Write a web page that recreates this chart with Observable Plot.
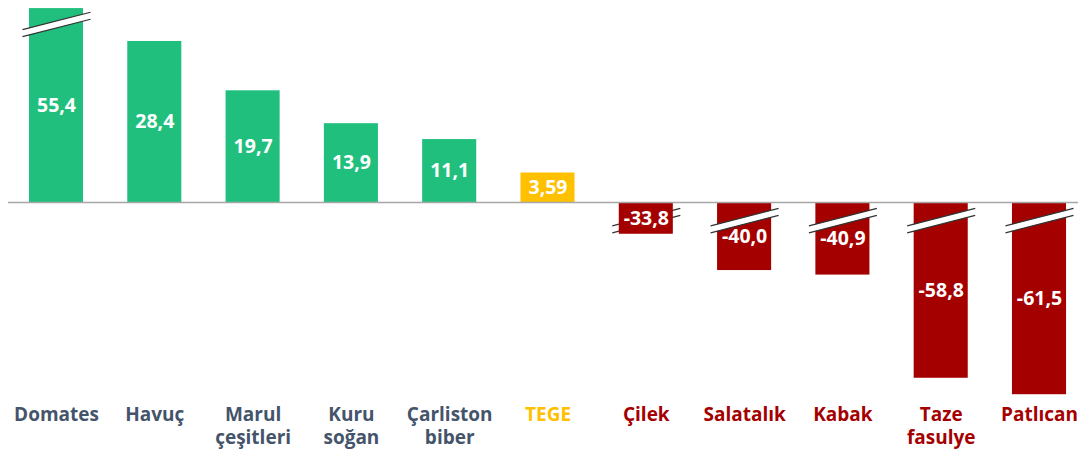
<!DOCTYPE html>
<html>
<head>
<meta charset="utf-8">
<script src="https://cdn.jsdelivr.net/npm/d3@7"></script>
<script src="https://cdn.jsdelivr.net/npm/@observablehq/plot@0.6"></script>
<style>
  html, body { margin: 0; padding: 0; background: #fff; }
  #chart svg { display: block; }
</style>
</head>
<body>
<div id="chart"></div>
<script>
// Categories (tick labels)
const categories = ["Domates", "Havuç", "Marul\nçeşitleri", "Kuru\nsoğan", "Çarliston\nbiber", "TEGE", "Çilek", "Salatalık", "Kabak", "Taze\nfasulye", "Patlıcan"];
// Values printed on the bars (% change)
const values = [55.4, 28.4, 19.7, 13.9, 11.1, 3.59, -33.8, -40.0, -40.9, -58.8, -61.5];
// Extent of each bar as drawn on the broken axis
const shown = [34.2, 28.4, 19.7, 13.9, 11.1, 5.2, -5.6, -12.0, -12.8, -31.0, -33.9];
// Where the axis-break mark crosses each bar (null = no break)
const breakAt = [31.4, null, null, null, null, null, -3.2, -3.2, -3.2, -3.2, -3.2];
// Breaks that sit behind the bar
const breakBehind = ["Çilek"];
// Group of each bar: up, total, down
const groups = ["up", "up", "up", "up", "up", "total", "down", "down", "down", "down", "down"];

const barColor = {up: "#21bf7e", total: "#ffc000", down: "#a50000"};
const textColor = {up: "#44546a", total: "#ffc000", down: "#a50000"};

const rows = categories.map((c, i) => ({
  i, c, v: values[i], s: shown[i], b: breakAt[i], g: groups[i]
}));
const breaks = rows.filter(d => d.b != null);
const back = breaks.filter(d => breakBehind.includes(d.c));
const front = breaks.filter(d => !breakBehind.includes(d.c));

const fmt = v => (Number.isInteger(Math.round(v * 100) / 10) ? v.toFixed(1) : v.toFixed(2)).replace(".", ",");

const pxPerUnit = 5.67;
const zeroY = 202;
const half = 0.275;      // half bar width in category units
const bx = 0.346, by = 1.54; // break mark half extents

function breakMarks(data) {
  const opts = {
    x1: d => d.i - bx, x2: d => d.i + bx,
    y1: d => d.b - by, y2: d => d.b + by
  };
  return [
    Plot.link(data, {...opts, stroke: "#fff", strokeWidth: 6.5}),
    Plot.link(data, {...opts, stroke: "#333", strokeWidth: 1.2, dy: -3.5}),
    Plot.link(data, {...opts, stroke: "#333", strokeWidth: 1.2, dy: 3.5})
  ];
}

const chart = Plot.plot({
  width: 1078,
  height: 450,
  marginLeft: 8,
  marginRight: 0,
  marginTop: 0,
  marginBottom: 47,
  x: {domain: [0, categories.length - 1], range: [56, 1039], axis: null},
  y: {domain: [-36, 36], range: [zeroY + 36 * pxPerUnit, zeroY - 36 * pxPerUnit], axis: null},
  color: {type: "identity"},
  style: {fontFamily: "'Open Sans', sans-serif", background: "#fff"},
  marks: [
    ...breakMarks(back),
    Plot.rectY(rows, {
      x1: d => d.i - half, x2: d => d.i + half,
      y1: 0, y2: "s",
      fill: d => barColor[d.g]
    }),
    Plot.ruleY([0], {stroke: "#a6a6a6", strokeWidth: 1.3}),
    ...breakMarks(front),
    Plot.text(rows, {
      x: "i", y: d => d.s / 2,
      text: d => fmt(d.v),
      fill: "#fff", fontSize: 19.5, fontWeight: "bold"
    }),
    Plot.text(rows, {
      x: "i", frameAnchor: "bottom", lineAnchor: "top",
      text: "c", lineHeight: 1.26,
      fill: d => textColor[d.g], fontSize: 19, fontWeight: "bold"
    })
  ]
});
document.getElementById("chart").appendChild(chart);
</script>
</body>
</html>
